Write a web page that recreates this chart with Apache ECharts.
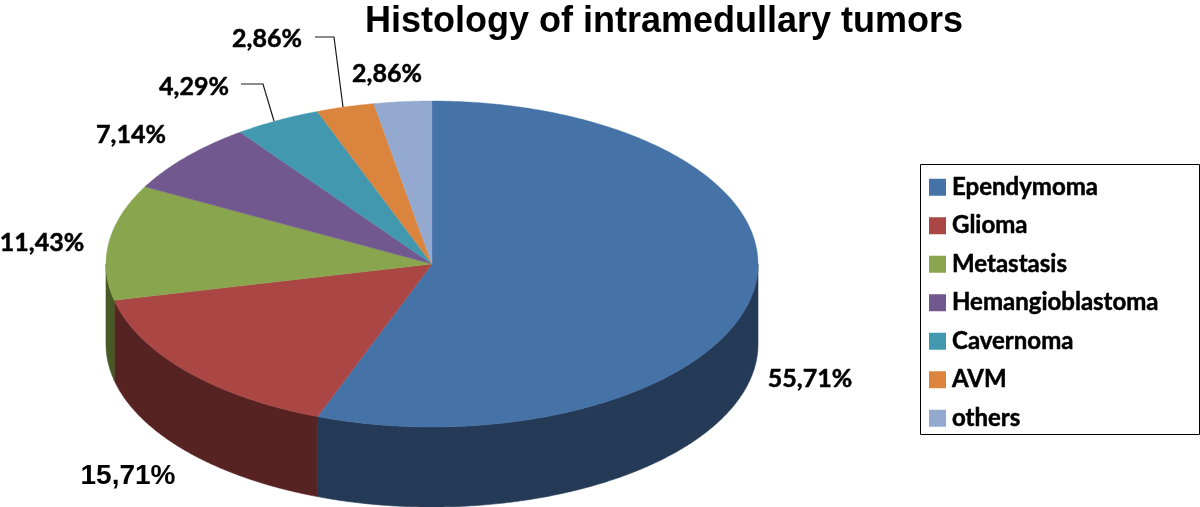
<!DOCTYPE html>
<html>
<head>
<meta charset="utf-8">
<style>html,body{margin:0;padding:0;background:#fff}#c{width:1200px;height:507px}</style>
<script src="https://cdn.jsdelivr.net/npm/echarts@6/dist/echarts.min.js"></script>
</head>
<body>
<div id="c"></div>
<script>
var categories = ['Ependymoma','Glioma','Metastasis','Hemangioblastoma','Cavernoma','AVM','others'];
var shares = [55.71,15.71,11.43,7.14,4.29,2.86,2.86];
var shareLabels = ['55,71%','15,71%','11,43%','7,14%','4,29%','2,86%','2,86%'];
var titleText = 'Histology of intramedullary tumors';

var topColors = ['#4572A7','#AA4643','#89A54E','#71588F','#4198AF','#DB843D','#93A9CF'];
var sideColors = ['#253A57','#572322','#465A26','#3b2d4a','#215060','#7a4720','#4e5a6e'];
var CX = 432, CY = 264, RX = 326, RY = 163, DEPTH = 80;
var total = shares.reduce(function (a, b) { return a + b; }, 0);
var labelFont = ['Lato','Liberation Sans','Lato','Lato','Lato','Lato','Lato'];
var labelSize = [25,28,25,25,25,25,25];
var labelAt = [[810,379],[128,476],[42,243],[131,135],[194,87],[267,39],[387,74]];
var leaders = {4: [[241,84],[263,84],[274,121]], 5: [[315,37],[334,37],[343,107]]};

function pt(deg, dy) {
  var r = deg * Math.PI / 180;
  return [CX + RX * Math.sin(r), CY - RY * Math.cos(r) + (dy || 0)];
}
function arc(from, to, dy) {
  var pts = [], n = Math.max(2, Math.ceil(Math.abs(to - from) * 2));
  for (var i = 0; i <= n; i++) pts.push(pt(from + (to - from) * i / n, dy));
  return pts;
}
function renderSlice(idx) {
  return function (params, api) {
    var a0 = api.value(0) / total * 360, a1 = api.value(1) / total * 360;
    var kids = [];
    var s0 = Math.max(a0, 90), s1 = Math.min(a1, 270);
    if (s1 > s0) {
      kids.push({type: 'polygon', shape: {points: arc(s0, s1, 0).concat(arc(s1, s0, DEPTH))},
        style: {fill: sideColors[idx], stroke: sideColors[idx], lineWidth: 0.6}});
    }
    kids.push({type: 'polygon', shape: {points: [[CX, CY]].concat(arc(a0, a1, 0))},
      style: {fill: topColors[idx], stroke: topColors[idx], lineWidth: 0.4}});
    if (leaders[idx]) {
      kids.push({type: 'polyline', shape: {points: leaders[idx]},
        style: {fill: null, stroke: '#1a1a1a', lineWidth: 1.2}, z2: 50});
    }
    kids.push({type: 'text', x: labelAt[idx][0], y: labelAt[idx][1], z2: 60,
      style: {text: shareLabels[idx], fill: '#000', align: 'center', verticalAlign: 'middle',
        stroke: idx === 1 ? null : '#000', lineWidth: 0.5,
        font: 'bold ' + labelSize[idx] + 'px "' + labelFont[idx] + '"'}});
    return {type: 'group', children: kids};
  };
}
var cum = 0;
var series = categories.map(function (name, i) {
  var start = cum; cum += shares[i];
  return {type: 'custom', name: name, coordinateSystem: 'none', silent: true, animation: false,
    itemStyle: {color: topColors[i]}, encode: {},
    renderItem: renderSlice(i), data: [[start, cum, shares[i]]]};
});

var chart = echarts.init(document.getElementById('c'), null, {renderer: 'canvas'});
chart.setOption({
  animation: false,
  backgroundColor: '#fff',
  title: {text: titleText, left: 664, top: 22, textAlign: 'center', textVerticalAlign: 'middle', padding: 0,
    textStyle: {fontFamily: 'Liberation Sans', fontWeight: 'bold', fontSize: 36, color: '#000'}},
  legend: {orient: 'vertical', left: 929, top: 175, padding: 0, itemWidth: 17, itemHeight: 17, itemGap: 14,
    icon: 'rect', selectedMode: false, data: categories,
    textStyle: {fontFamily: 'Lato', fontWeight: 'bold', fontSize: 24, color: '#000', textBorderColor: '#000', textBorderWidth: 0.5, padding: [0, 0, 0, 1]}},
  graphic: [{type: 'rect', shape: {x: 920.5, y: 164.5, width: 279, height: 270},
    style: {fill: 'none', stroke: '#000', lineWidth: 1}, silent: true, z: -1}],
  series: series
});
</script>
</body>
</html>
